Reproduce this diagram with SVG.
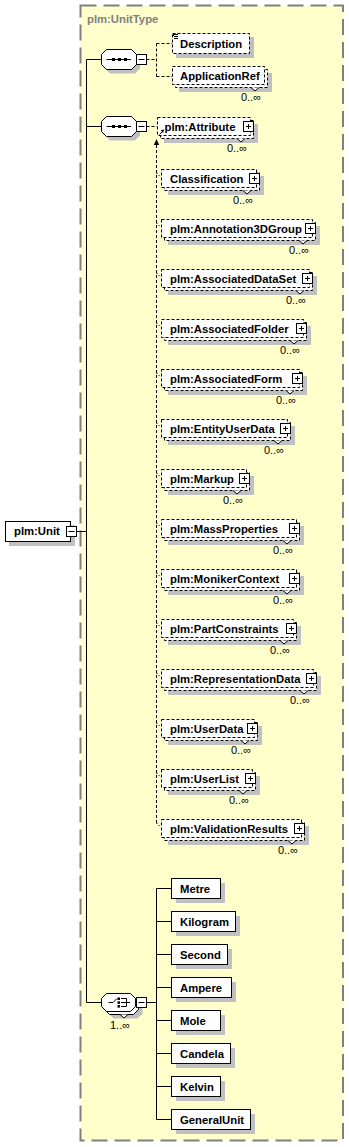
<svg xmlns="http://www.w3.org/2000/svg" width="349" height="1147" viewBox="0 0 349 1147">
<style>
.sh{fill:#c0c0c0;stroke:none}
.bx{fill:#fff;stroke:#000;stroke-width:1}
.bxd{fill:#fff;stroke:#000;stroke-width:1;stroke-dasharray:3 2}
.t{font-family:"Liberation Sans",Arial,sans-serif;font-size:11.3px;font-weight:bold;fill:#000}
.occ{font-family:"Liberation Sans",Arial,sans-serif;font-size:11px;fill:#000;text-anchor:end}
.ln{stroke:#000;stroke-width:1;fill:none}
.lnd{stroke:#000;stroke-width:1;fill:none;stroke-dasharray:3 2}
.tick{stroke:#000;stroke-width:1;fill:none;stroke-dasharray:1.5 1.5}
.notch{fill:#fff;stroke:#000;stroke-width:1}
.pm{fill:#fff;stroke:#000;stroke-width:1}
.dot{fill:#000}
</style>

<g id="type-UnitType">
<rect x="80.5" y="5.5" width="262.5" height="1135" fill="#ffffcc" stroke="#808080" stroke-width="2" stroke-dasharray="16 7"/>
<text x="87" y="23" font-family="Liberation Sans, Arial, sans-serif" font-size="11.3" font-weight="bold" fill="#808080">plm:UnitType</text>
</g>

<g id="connectors">
<path class="ln" d="M76.5 531.5H86.5M86.5 59.5V1002.5M86.5 59.5H101.5M86.5 126.5H101.5M86.5 1002.5H101.5"/>
<path class="lnd" d="M146.5 59.5H156.5M156.5 43.5V76.5M156.5 43.5H172.5M156.5 76.5H172.5M146.5 126.5H157.5"/>
<polygon points="156.5,139 153.8,145 159.2,145" fill="#000"/>
<path class="lnd" d="M156.5 145V823"/>
<path class="tick" d="M156.5 173L160.5 177M156.5 223L160.5 227M156.5 273L160.5 277M156.5 323L160.5 327M156.5 373L160.5 377M156.5 423L160.5 427M156.5 473L160.5 477M156.5 523L160.5 527M156.5 573L160.5 577M156.5 623L160.5 627M156.5 673L160.5 677M156.5 723L160.5 727M156.5 773L160.5 777M156.5 823L160.5 827"/>
<path class="ln" d="M146.5 1002.5H156.5M156.5 888.5V1119.5M156.5 888.5H171.5M156.5 921.5H171.5M156.5 954.5H171.5M156.5 987.5H171.5M156.5 1020.5H171.5M156.5 1053.5H171.5M156.5 1086.5H171.5M156.5 1119.5H171.5"/>
</g>

<g id="Unit">
<rect class="sh" x="9" y="525" width="66" height="21"/>
<rect class="bx" x="5.5" y="521.5" width="65" height="20"/>
<text class="t" x="14" y="535">plm:Unit</text>
<rect class="pm" x="66.5" y="526.5" width="10" height="10"/>
<path class="ln" d="M68.5 531.5H74.5"/>
</g>

<g id="sequence1">
<polygon class="sh" points="110,53.5 135,53.5 140,58.5 140,68.5 135,73.5 110,73.5 105,68.5 105,58.5"/>
<polygon class="bx" points="106.5,49.5 131.5,49.5 136.5,54.5 136.5,64.5 131.5,69.5 106.5,69.5 101.5,64.5 101.5,54.5"/>
<path class="ln" d="M106.5 59.5H131"/>
<rect class="dot" x="112" y="58" width="3" height="3"/><rect class="dot" x="118" y="58" width="3" height="3"/><rect class="dot" x="124" y="58" width="3" height="3"/>
<rect class="pm" x="136.5" y="54.5" width="10" height="10"/>
<path class="ln" d="M138.5 59.5H144.5"/>
</g>

<g id="Description">
<rect class="sh" x="176" y="37" width="78" height="21"/>
<rect class="bxd" x="172.5" y="33.5" width="77" height="20"/>
<path class="ln" d="M174 34.5H178M174 36.5H178M174 38.5H178M173.5 34V36"/>
<text class="t" x="180" y="47.5">Description</text>
</g>

<g id="ApplicationRef">
<rect class="sh" x="179" y="73" width="93" height="19"/>
<rect class="bxd" x="175.5" y="69.5" width="92" height="18"/>
<rect class="bxd" x="172.5" y="66.5" width="92" height="18"/>
<polyline class="notch" points="251,87.5 255,91 259,87.5"/>
<text class="t" x="180" y="79.5">ApplicationRef</text>
<text class="occ" x="261" y="101">0..∞</text>
</g>

<g id="sequence2">
<polygon class="sh" points="110,120.5 135,120.5 140,125.5 140,135.5 135,140.5 110,140.5 105,135.5 105,125.5"/>
<polygon class="bx" points="106.5,116.5 131.5,116.5 136.5,121.5 136.5,131.5 131.5,136.5 106.5,136.5 101.5,131.5 101.5,121.5"/>
<path class="ln" d="M106.5 126.5H131"/>
<rect class="dot" x="112" y="125" width="3" height="3"/><rect class="dot" x="118" y="125" width="3" height="3"/><rect class="dot" x="124" y="125" width="3" height="3"/>
<rect class="pm" x="136.5" y="121.5" width="10" height="10"/>
<path class="ln" d="M138.5 126.5H144.5"/>
</g>

<g id="Attribute" transform="translate(157,117)">
<rect class="sh" x="7" y="7" width="94" height="19"/>
<rect class="bxd" x="3.5" y="3.5" width="93" height="18"/>
<rect class="bxd" x="0.5" y="0.5" width="93" height="18"/>
<polyline class="notch" points="80,21.5 84,25 88,21.5"/>
<path class="ln" d="M2.5 17.5L6 14"/>
<polygon points="7,12.5 3.6,13.3 6.2,15.9" fill="#000"/>
<text class="t" x="7.5" y="13.5">plm:Attribute</text>
<rect class="pm" x="86.5" y="4.5" width="10" height="10"/>
<path class="ln" d="M89 9.5H94M91.5 7V12"/>
<text class="occ" x="90" y="35">0..∞</text>
</g>

<g id="Classification" transform="translate(161,169)">
<rect class="sh" x="7" y="7" width="96" height="19"/><rect class="bxd" x="3.5" y="3.5" width="95" height="18"/><rect class="bxd" x="0.5" y="0.5" width="95" height="18"/>
<polyline class="notch" points="82,21.5 86,25 90,21.5"/>
<text class="t" x="9" y="13.5">Classification</text>
<rect class="pm" x="88.5" y="4.5" width="10" height="10"/><path class="ln" d="M91 9.5H96M93.5 7V12"/>
<text class="occ" x="92" y="35">0..∞</text>
</g>

<g id="Annotation3DGroup" transform="translate(161,219)">
<rect class="sh" x="7" y="7" width="152" height="19"/><rect class="bxd" x="3.5" y="3.5" width="151" height="18"/><rect class="bxd" x="0.5" y="0.5" width="151" height="18"/>
<polyline class="notch" points="138,21.5 142,25 146,21.5"/>
<text class="t" x="9" y="13.5">plm:Annotation3DGroup</text>
<rect class="pm" x="144.5" y="4.5" width="10" height="10"/><path class="ln" d="M147 9.5H152M149.5 7V12"/>
<text class="occ" x="148" y="35">0..∞</text>
</g>

<g id="AssociatedDataSet" transform="translate(161,269)">
<rect class="sh" x="7" y="7" width="149" height="19"/><rect class="bxd" x="3.5" y="3.5" width="148" height="18"/><rect class="bxd" x="0.5" y="0.5" width="148" height="18"/>
<polyline class="notch" points="135,21.5 139,25 143,21.5"/>
<text class="t" x="9" y="13.5">plm:AssociatedDataSet</text>
<rect class="pm" x="141.5" y="4.5" width="10" height="10"/><path class="ln" d="M144 9.5H149M146.5 7V12"/>
<text class="occ" x="145" y="35">0..∞</text>
</g>

<g id="AssociatedFolder" transform="translate(161,319)">
<rect class="sh" x="7" y="7" width="143" height="19"/><rect class="bxd" x="3.5" y="3.5" width="142" height="18"/><rect class="bxd" x="0.5" y="0.5" width="142" height="18"/>
<polyline class="notch" points="129,21.5 133,25 137,21.5"/>
<text class="t" x="9" y="13.5">plm:AssociatedFolder</text>
<rect class="pm" x="135.5" y="4.5" width="10" height="10"/><path class="ln" d="M138 9.5H143M140.5 7V12"/>
<text class="occ" x="139" y="35">0..∞</text>
</g>

<g id="AssociatedForm" transform="translate(161,369)">
<rect class="sh" x="7" y="7" width="139" height="19"/><rect class="bxd" x="3.5" y="3.5" width="138" height="18"/><rect class="bxd" x="0.5" y="0.5" width="138" height="18"/>
<polyline class="notch" points="125,21.5 129,25 133,21.5"/>
<text class="t" x="9" y="13.5">plm:AssociatedForm</text>
<rect class="pm" x="131.5" y="4.5" width="10" height="10"/><path class="ln" d="M134 9.5H139M136.5 7V12"/>
<text class="occ" x="135" y="35">0..∞</text>
</g>

<g id="EntityUserData" transform="translate(161,419)">
<rect class="sh" x="7" y="7" width="127" height="19"/><rect class="bxd" x="3.5" y="3.5" width="126" height="18"/><rect class="bxd" x="0.5" y="0.5" width="126" height="18"/>
<polyline class="notch" points="113,21.5 117,25 121,21.5"/>
<text class="t" x="9" y="13.5">plm:EntityUserData</text>
<rect class="pm" x="119.5" y="4.5" width="10" height="10"/><path class="ln" d="M122 9.5H127M124.5 7V12"/>
<text class="occ" x="123" y="35">0..∞</text>
</g>

<g id="Markup" transform="translate(161,469)">
<rect class="sh" x="7" y="7" width="86" height="19"/><rect class="bxd" x="3.5" y="3.5" width="85" height="18"/><rect class="bxd" x="0.5" y="0.5" width="85" height="18"/>
<polyline class="notch" points="72,21.5 76,25 80,21.5"/>
<text class="t" x="9" y="13.5">plm:Markup</text>
<rect class="pm" x="78.5" y="4.5" width="10" height="10"/><path class="ln" d="M81 9.5H86M83.5 7V12"/>
<text class="occ" x="82" y="35">0..∞</text>
</g>

<g id="MassProperties" transform="translate(161,519)">
<rect class="sh" x="7" y="7" width="136" height="19"/><rect class="bxd" x="3.5" y="3.5" width="135" height="18"/><rect class="bxd" x="0.5" y="0.5" width="135" height="18"/>
<polyline class="notch" points="122,21.5 126,25 130,21.5"/>
<text class="t" x="9" y="13.5">plm:MassProperties</text>
<rect class="pm" x="128.5" y="4.5" width="10" height="10"/><path class="ln" d="M131 9.5H136M133.5 7V12"/>
<text class="occ" x="132" y="35">0..∞</text>
</g>

<g id="MonikerContext" transform="translate(161,569)">
<rect class="sh" x="7" y="7" width="136" height="19"/><rect class="bxd" x="3.5" y="3.5" width="135" height="18"/><rect class="bxd" x="0.5" y="0.5" width="135" height="18"/>
<polyline class="notch" points="122,21.5 126,25 130,21.5"/>
<text class="t" x="9" y="13.5">plm:MonikerContext</text>
<rect class="pm" x="128.5" y="4.5" width="10" height="10"/><path class="ln" d="M131 9.5H136M133.5 7V12"/>
<text class="occ" x="132" y="35">0..∞</text>
</g>

<g id="PartConstraints" transform="translate(161,619)">
<rect class="sh" x="7" y="7" width="133" height="19"/><rect class="bxd" x="3.5" y="3.5" width="132" height="18"/><rect class="bxd" x="0.5" y="0.5" width="132" height="18"/>
<polyline class="notch" points="119,21.5 123,25 127,21.5"/>
<text class="t" x="9" y="13.5">plm:PartConstraints</text>
<rect class="pm" x="125.5" y="4.5" width="10" height="10"/><path class="ln" d="M128 9.5H133M130.5 7V12"/>
<text class="occ" x="129" y="35">0..∞</text>
</g>

<g id="RepresentationData" transform="translate(161,669)">
<rect class="sh" x="7" y="7" width="153" height="19"/><rect class="bxd" x="3.5" y="3.5" width="152" height="18"/><rect class="bxd" x="0.5" y="0.5" width="152" height="18"/>
<polyline class="notch" points="139,21.5 143,25 147,21.5"/>
<text class="t" x="9" y="13.5">plm:RepresentationData</text>
<rect class="pm" x="145.5" y="4.5" width="10" height="10"/><path class="ln" d="M148 9.5H153M150.5 7V12"/>
<text class="occ" x="149" y="35">0..∞</text>
</g>

<g id="UserData" transform="translate(161,719)">
<rect class="sh" x="7" y="7" width="94" height="19"/><rect class="bxd" x="3.5" y="3.5" width="93" height="18"/><rect class="bxd" x="0.5" y="0.5" width="93" height="18"/>
<polyline class="notch" points="80,21.5 84,25 88,21.5"/>
<text class="t" x="9" y="13.5">plm:UserData</text>
<rect class="pm" x="86.5" y="4.5" width="10" height="10"/><path class="ln" d="M89 9.5H94M91.5 7V12"/>
<text class="occ" x="90" y="35">0..∞</text>
</g>

<g id="UserList" transform="translate(161,769)">
<rect class="sh" x="7" y="7" width="92" height="19"/><rect class="bxd" x="3.5" y="3.5" width="91" height="18"/><rect class="bxd" x="0.5" y="0.5" width="91" height="18"/>
<polyline class="notch" points="78,21.5 82,25 86,21.5"/>
<text class="t" x="9" y="13.5">plm:UserList</text>
<rect class="pm" x="84.5" y="4.5" width="10" height="10"/><path class="ln" d="M87 9.5H92M89.5 7V12"/>
<text class="occ" x="88" y="35">0..∞</text>
</g>

<g id="ValidationResults" transform="translate(161,819)">
<rect class="sh" x="7" y="7" width="141" height="19"/><rect class="bxd" x="3.5" y="3.5" width="140" height="18"/><rect class="bxd" x="0.5" y="0.5" width="140" height="18"/>
<polyline class="notch" points="127,21.5 131,25 135,21.5"/>
<text class="t" x="9" y="13.5">plm:ValidationResults</text>
<rect class="pm" x="133.5" y="4.5" width="10" height="10"/><path class="ln" d="M136 9.5H141M138.5 7V12"/>
<text class="occ" x="137" y="35">0..∞</text>
</g>

<g id="choice">
<polygon class="sh" points="113.5,1000.5 137.5,1000.5 142.5,1005.5 142.5,1013.5 137.5,1018.5 113.5,1018.5 108.5,1013.5 108.5,1005.5"/>
<polygon class="bx" points="109.5,996.5 133.5,996.5 138.5,1001.5 138.5,1009.5 133.5,1014.5 109.5,1014.5 104.5,1009.5 104.5,1001.5"/>
<polyline class="notch" points="120,1014.5 124,1018 128,1014.5"/>
<polygon class="bx" points="106.5,993.5 130.5,993.5 135.5,998.5 135.5,1006.5 130.5,1011.5 106.5,1011.5 101.5,1006.5 101.5,998.5"/>
<path class="ln" d="M108.5 1002.5H113M113 1002.5L117 998.5M121 998.5H126.5V1006.5H121M121 1002.5H130"/>
<rect class="dot" x="117.5" y="997.5" width="2.5" height="2.5"/><rect class="dot" x="117.5" y="1001.3" width="2.5" height="2.5"/><rect class="dot" x="117.5" y="1005.1" width="2.5" height="2.5"/>
<rect class="pm" x="136.5" y="997.5" width="10" height="10"/>
<path class="ln" d="M138.5 1002.5H144.5"/>
<text x="120" y="1029" font-family="Liberation Sans, Arial, sans-serif" font-size="11" text-anchor="middle">1..∞</text>
</g>

<g id="Metre"><rect class="sh" x="176" y="883" width="49" height="20"/><rect class="bx" x="171.5" y="878.5" width="49" height="20"/><text class="t" x="180" y="892.5">Metre</text></g>
<g id="Kilogram"><rect class="sh" x="176" y="916" width="64" height="20"/><rect class="bx" x="171.5" y="911.5" width="64" height="20"/><text class="t" x="180" y="925.5">Kilogram</text></g>
<g id="Second"><rect class="sh" x="176" y="949" width="56" height="20"/><rect class="bx" x="171.5" y="944.5" width="56" height="20"/><text class="t" x="180" y="958.5">Second</text></g>
<g id="Ampere"><rect class="sh" x="176" y="982" width="60" height="20"/><rect class="bx" x="171.5" y="977.5" width="60" height="20"/><text class="t" x="180" y="991.5">Ampere</text></g>
<g id="Mole"><rect class="sh" x="176" y="1015" width="49" height="20"/><rect class="bx" x="171.5" y="1010.5" width="49" height="20"/><text class="t" x="180" y="1024.5">Mole</text></g>
<g id="Candela"><rect class="sh" x="176" y="1048" width="59" height="20"/><rect class="bx" x="171.5" y="1043.5" width="59" height="20"/><text class="t" x="180" y="1057.5">Candela</text></g>
<g id="Kelvin"><rect class="sh" x="176" y="1081" width="49" height="20"/><rect class="bx" x="171.5" y="1076.5" width="49" height="20"/><text class="t" x="180" y="1090.5">Kelvin</text></g>
<g id="GeneralUnit"><rect class="sh" x="176" y="1114" width="79" height="20"/><rect class="bx" x="171.5" y="1109.5" width="79" height="20"/><text class="t" x="180" y="1123.5">GeneralUnit</text></g>
</svg>
